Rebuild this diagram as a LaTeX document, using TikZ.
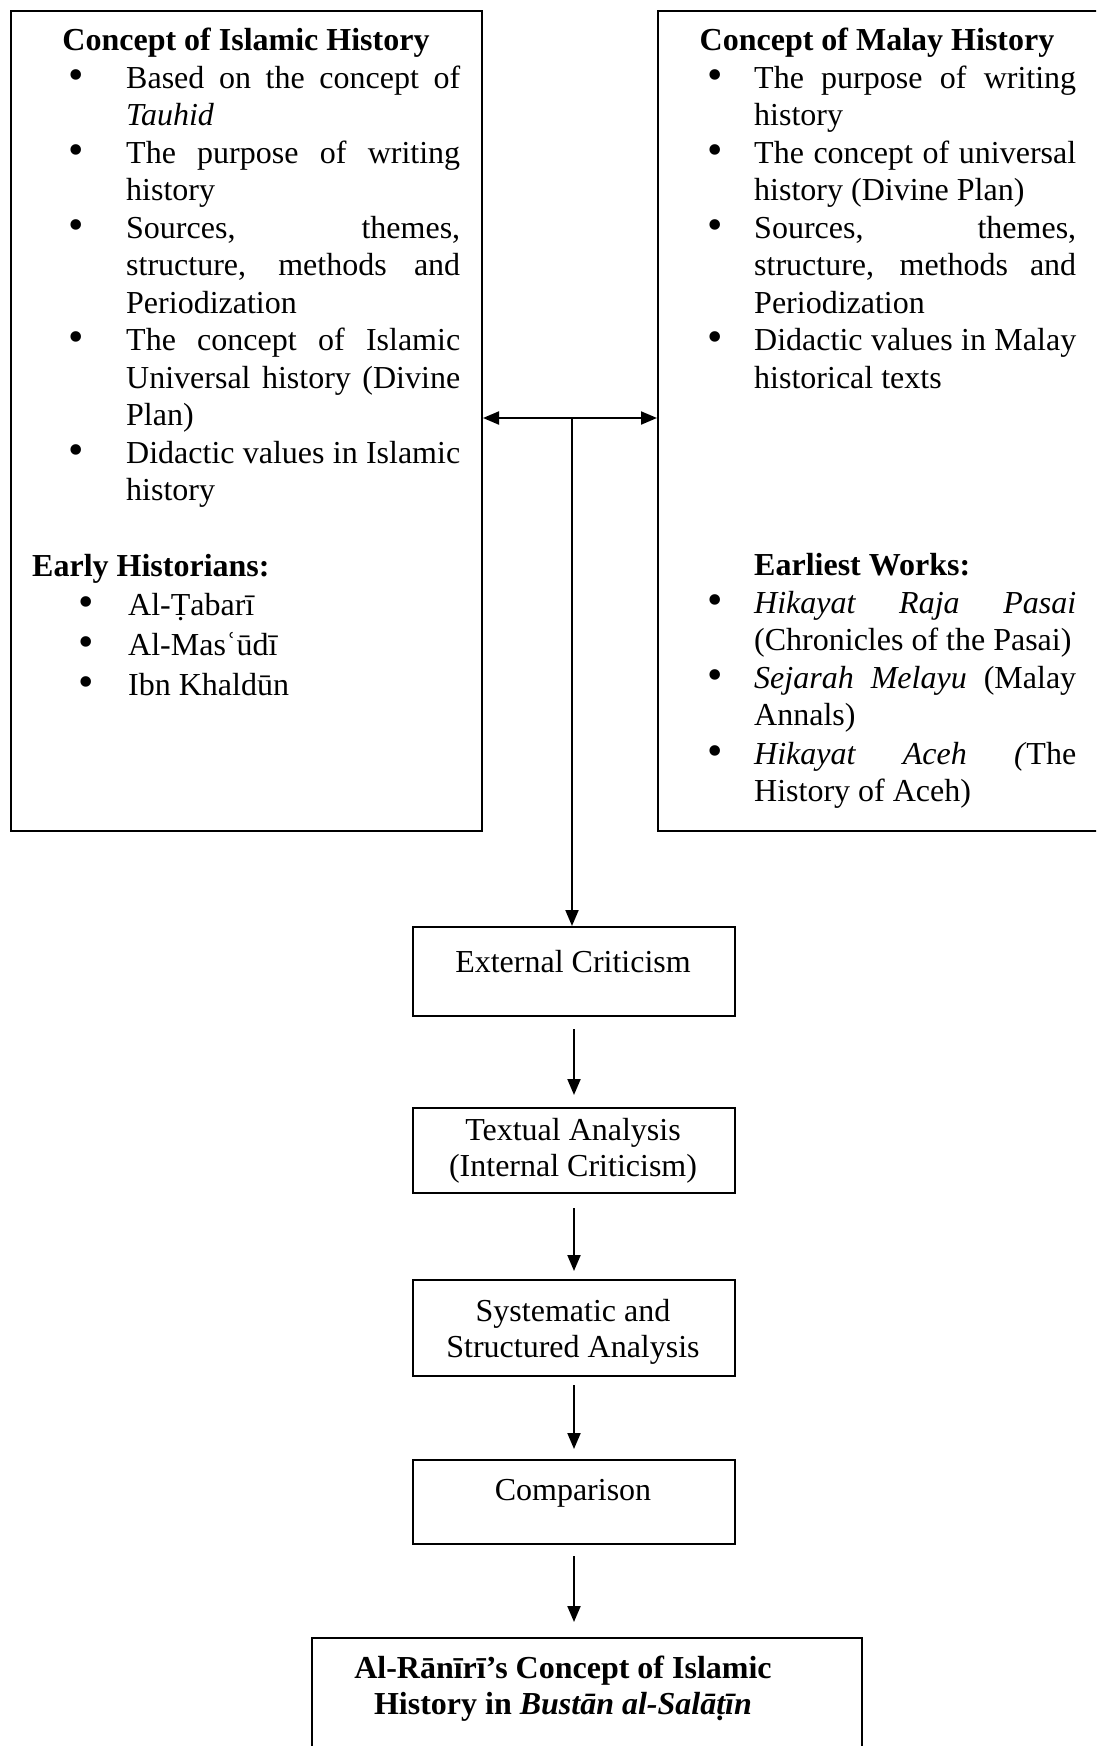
\documentclass[tikz,border=0pt]{standalone}
\usepackage{fontspec}
\setmainfont{Liberation Serif}
\usetikzlibrary{arrows.meta}
\newcommand\fs{\fontsize{32}{37.5}\selectfont}
\newcommand\JL[1]{\makebox[334pt][s]{#1}}
\newcommand\JR[1]{\makebox[322pt][s]{#1}}
\tikzset{
  box/.style={draw, line width=2pt, inner sep=0pt, anchor=north west},
  tl/.style={anchor=base west, inner sep=0pt, font=\fs},
  tc/.style={anchor=base, inner sep=0pt, font=\fs},
  bul/.style={anchor=center, inner sep=0pt, font=\fontsize{44}{44}\selectfont},
  arr/.style={line width=2pt, -{Triangle[length=16pt,width=13pt]}},
  darr/.style={line width=2pt, {Triangle[length=16pt,width=13pt]}-{Triangle[length=16pt,width=13pt]}},
}
\begin{document}
\begin{tikzpicture}[x=1pt,y=-1pt]
\clip (0,0) rectangle (1096,1746);
\fill[white] (0,0) rectangle (1096,1746);

% ---------- boxes ----------
\node[box, minimum width=471pt, minimum height=820pt] (islam) at (10,10) {};
\node[box, minimum width=470pt, minimum height=820pt] (malay) at (657,10) {};
\node[box, minimum width=322pt, minimum height=89pt] (ext) at (412,926) {};
\node[box, minimum width=322pt, minimum height=85pt] (txt) at (412,1107) {};
\node[box, minimum width=322pt, minimum height=96pt] (sys) at (412,1279) {};
\node[box, minimum width=322pt, minimum height=84pt] (cmp) at (412,1459) {};
\node[box, minimum width=550pt, minimum height=160pt] (fin) at (311,1637) {};

% ---------- left box text ----------
\node[tc] (i0) at (246,50) {\bfseries Concept of Islamic History};
\node[bul] (ib1) at (76,80) {\textbullet};
\node[tl] (i1) at (126,88) {\JL{Based on the concept of}};
\node[tl] (i2) at (126,125) {\itshape Tauhid};
\node[bul] (ib2) at (76,155) {\textbullet};
\node[tl] (i3) at (126,163) {\JL{The purpose of writing}};
\node[tl] (i4) at (126,200) {history};
\node[bul] (ib3) at (76,230) {\textbullet};
\node[tl] (i5) at (126,238) {\JL{Sources, themes,}};
\node[tl] (i6) at (126,275) {\JL{structure, methods and}};
\node[tl] (i7) at (126,313) {Periodization};
\node[bul] (ib4) at (76,342) {\textbullet};
\node[tl] (i8) at (126,350) {\JL{The concept of Islamic}};
\node[tl] (i9) at (126,388) {\JL{Universal history (Divine}};
\node[tl] (i10) at (126,425) {Plan)};
\node[bul] (ib5) at (76,455) {\textbullet};
\node[tl] (i11) at (126,463) {\JL{Didactic values in Islamic}};
\node[tl] (i12) at (126,500) {history};
\node[tl] (i13) at (32,576) {\bfseries Early Historians:};
\node[bul] (ib6) at (86,607) {\textbullet};
\node[tl] (i14) at (128,615) {Al-Ṭabarī};
\node[bul] (ib7) at (86,647) {\textbullet};
\node[tl] (i15) at (128,655) {Al-Masʿūdī};
\node[bul] (ib8) at (86,687) {\textbullet};
\node[tl] (i16) at (128,695) {Ibn Khaldūn};

% ---------- right box text ----------
\node[tc] (m0) at (877,50) {\bfseries Concept of Malay History};
\node[bul] (mb1) at (715,80) {\textbullet};
\node[tl] (m1) at (754,88) {\JR{The purpose of writing}};
\node[tl] (m2) at (754,125) {history};
\node[bul] (mb2) at (715,155) {\textbullet};
\node[tl] (m3) at (754,163) {\JR{The concept of universal}};
\node[tl] (m4) at (754,200) {history (Divine Plan)};
\node[bul] (mb3) at (715,230) {\textbullet};
\node[tl] (m5) at (754,238) {\JR{Sources, themes,}};
\node[tl] (m6) at (754,275) {\JR{structure, methods and}};
\node[tl] (m7) at (754,313) {Periodization};
\node[bul] (mb4) at (715,342) {\textbullet};
\node[tl] (m8) at (754,350) {\JR{Didactic values in Malay}};
\node[tl] (m9) at (754,388) {historical texts};
\node[tl] (m10) at (754,575) {\bfseries Earliest Works:};
\node[bul] (mb5) at (715,605) {\textbullet};
\node[tl] (m11) at (754,613) {\JR{\itshape Hikayat Raja Pasai}};
\node[tl] (m12) at (754,650) {(Chronicles of the Pasai)};
\node[bul] (mb6) at (715,680) {\textbullet};
\node[tl] (m13) at (754,688) {\JR{\textit{Sejarah Melayu} (Malay}};
\node[tl] (m14) at (754,725) {Annals)};
\node[bul] (mb7) at (715,756) {\textbullet};
\node[tl] (m15) at (754,764) {\JR{\textit{Hikayat Aceh (}The}};
\node[tl] (m16) at (754,801) {History of Aceh)};

% ---------- flow text ----------
\node[tc] (ext-t) at (573,972) {External Criticism};
\node[tc] (txt-t1) at (573,1140) {Textual Analysis};
\node[tc] (txt-t2) at (573,1176) {(Internal Criticism)};
\node[tc] (sys-t1) at (573,1321) {Systematic and};
\node[tc] (sys-t2) at (573,1357) {Structured Analysis};
\node[tc] (cmp-t) at (573,1500) {Comparison};
\node[tc] (fin-t1) at (563,1678) {\bfseries Al-Rānīrī’s Concept of Islamic};
\node[tc] (fin-t2) at (563,1714) {\bfseries History in \textit{Bustān al-Salāṭīn}};

% ---------- connectors ----------
\coordinate (j) at (572,418);
\draw[darr] (islam.east |- j) -- (malay.west |- j);
\draw[arr] (j) -- (j |- ext.north);
\draw[arr, shorten <=12pt, shorten >=12pt] (ext) -- (txt);
\draw[arr, shorten <=14pt, shorten >=8pt] (txt) -- (sys);
\draw[arr, shorten <=8pt, shorten >=10pt] (sys) -- (cmp);
\coordinate (fa) at (574,1543);
\draw[arr, shorten <=13pt, shorten >=15pt] (fa) -- (fa |- fin.north);
\end{tikzpicture}
\end{document}
